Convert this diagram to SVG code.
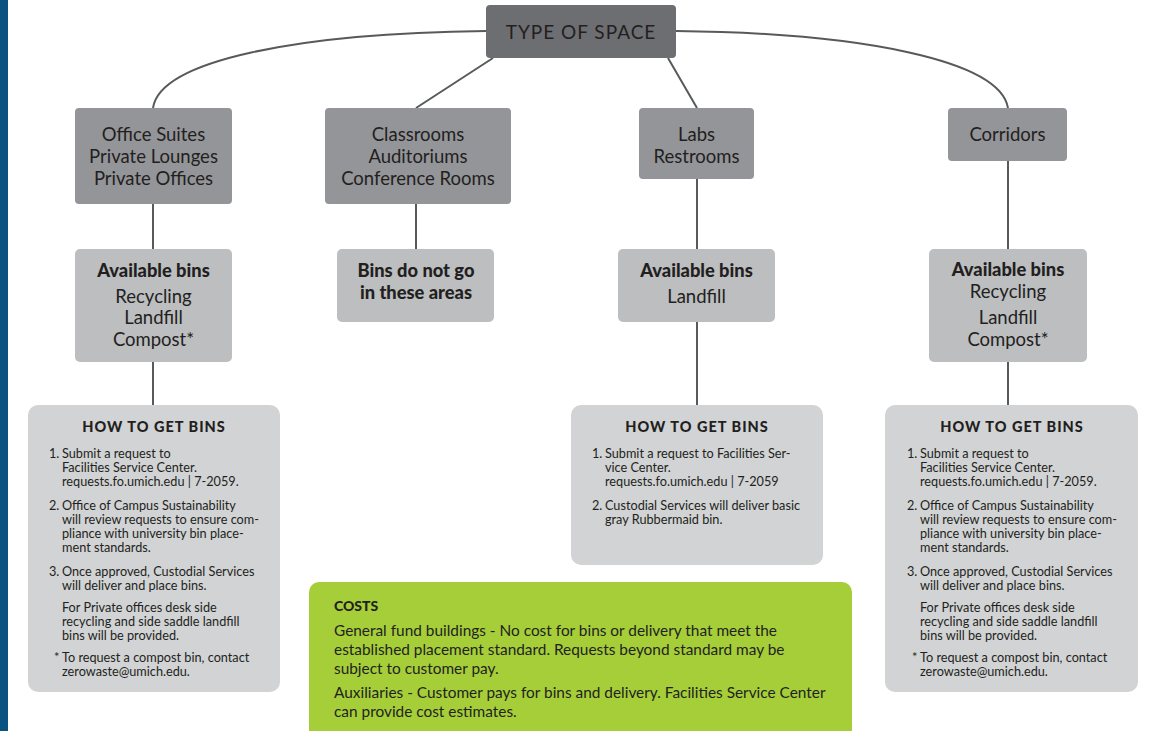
<svg xmlns="http://www.w3.org/2000/svg" width="1151" height="731" viewBox="0 0 1151 731">
<style>
.t{font-family:Lato,"Noto Sans",sans-serif;fill:#231f20}
.c{text-anchor:middle}
.l1{font-size:18.5px}
.b{font-weight:900;font-size:18.3px}
.s{font-size:12.7px}
.h{font-size:14.5px;font-weight:900;letter-spacing:1px}
.g{font-size:15.4px}
.conn{stroke:#58595b;stroke-width:2;fill:none}
</style>
<rect x="0" y="0" width="1151" height="731" fill="#ffffff"/>
<rect x="0" y="0" width="8" height="731" fill="#0a5280"/>
<g id="connectors">
<path class="conn" d="M486,31 C300,33 160,60 153,108"/>
<path class="conn" d="M676,31 C860,33 1000,60 1008,108"/>
<path class="conn" d="M493,58 L416,108"/>
<path class="conn" d="M668,58 L697,108"/>
<path class="conn" d="M153,204 V249 M416,204 V249 M697,179 V249 M1008,161 V249"/>
<path class="conn" d="M153,362 V405 M697,322 V405 M1008,362 V405"/>
</g>
<g id="type-of-space">
<rect x="486" y="5" width="190" height="53" rx="4" fill="#6d6e71"/>
<text class="t c" x="581" y="39" style="font-size:19px;letter-spacing:1px">TYPE OF SPACE</text>
</g>
<g id="office-suites">
<rect x="75" y="108" width="157" height="96" rx="4" fill="#939598"/>
<text class="t c l1" x="153.5" y="141">Office Suites</text>
<text class="t c l1" x="153.5" y="163">Private Lounges</text>
<text class="t c l1" x="153.5" y="185">Private Offices</text>
</g>
<g id="classrooms">
<rect x="325" y="108" width="186" height="96" rx="4" fill="#939598"/>
<text class="t c l1" x="418" y="141">Classrooms</text>
<text class="t c l1" x="418" y="163">Auditoriums</text>
<text class="t c l1" x="418" y="185">Conference Rooms</text>
</g>
<g id="labs">
<rect x="639" y="108" width="115" height="71" rx="4" fill="#939598"/>
<text class="t c l1" x="696.5" y="141">Labs</text>
<text class="t c l1" x="696.5" y="163">Restrooms</text>
</g>
<g id="corridors">
<rect x="948" y="108" width="119" height="53" rx="4" fill="#939598"/>
<text class="t c l1" x="1007.5" y="141">Corridors</text>
</g>
<g id="office-bins">
<rect x="75" y="249" width="157" height="113" rx="5" fill="#bcbec0"/>
<text class="t c b" x="153.5" y="277">Available bins</text>
<text class="t c l1" x="153.5" y="303">Recycling</text>
<text class="t c l1" x="153.5" y="324">Landfill</text>
<text class="t c l1" x="153.5" y="346">Compost*</text>
</g>
<g id="no-bins">
<rect x="337" y="249" width="157" height="73" rx="5" fill="#bcbec0"/>
<text class="t c b" x="416" y="277">Bins do not go</text>
<text class="t c b" x="416" y="299">in these areas</text>
</g>
<g id="labs-bins">
<rect x="618" y="249" width="157" height="73" rx="5" fill="#bcbec0"/>
<text class="t c b" x="696.5" y="277">Available bins</text>
<text class="t c l1" x="696.5" y="303">Landfill</text>
</g>
<g id="corridor-bins">
<rect x="929" y="249" width="158" height="113" rx="5" fill="#bcbec0"/>
<text class="t c b" x="1008" y="276">Available bins</text>
<text class="t c l1" x="1008" y="298">Recycling</text>
<text class="t c l1" x="1008" y="324">Landfill</text>
<text class="t c l1" x="1008" y="346">Compost*</text>
</g>
<g id="office-how">
<rect x="28" y="405" width="252" height="287" rx="10" fill="#d1d3d4"/>
<text class="t c h" x="154" y="432">HOW TO GET BINS</text>
<g class="t s">
<text x="49" y="458">1.</text>
<text x="62" y="458">Submit a request to</text>
<text x="62" y="472">Facilities Service Center.</text>
<text x="62" y="486">requests.fo.umich.edu | 7-2059.</text>
<text x="49" y="510">2.</text>
<text x="62" y="510">Office of Campus Sustainability</text>
<text x="62" y="524">will review requests to ensure com-</text>
<text x="62" y="538">pliance with university bin place-</text>
<text x="62" y="552">ment standards.</text>
<text x="49" y="576">3.</text>
<text x="62" y="576">Once approved, Custodial Services</text>
<text x="62" y="590">will deliver and place bins.</text>
<text x="62" y="612">For Private offices desk side</text>
<text x="62" y="626">recycling and side saddle landfill</text>
<text x="62" y="640">bins will be provided.</text>
<text x="54" y="662">*</text>
<text x="62" y="662">To request a compost bin, contact</text>
<text x="62" y="676">zerowaste@umich.edu.</text>
</g>
</g>
<g id="labs-how">
<rect x="571" y="405" width="252" height="160" rx="10" fill="#d1d3d4"/>
<text class="t c h" x="697" y="432">HOW TO GET BINS</text>
<g class="t s">
<text x="592" y="458">1.</text>
<text x="605" y="458">Submit a request to Facilities Ser-</text>
<text x="605" y="472">vice Center.</text>
<text x="605" y="486">requests.fo.umich.edu | 7-2059</text>
<text x="592" y="510">2.</text>
<text x="605" y="510">Custodial Services will deliver basic</text>
<text x="605" y="524">gray Rubbermaid bin.</text>
</g>
</g>
<g id="corridor-how">
<rect x="885" y="405" width="253" height="287" rx="10" fill="#d1d3d4"/>
<text class="t c h" x="1012" y="432">HOW TO GET BINS</text>
<g class="t s">
<text x="907" y="458">1.</text>
<text x="920" y="458">Submit a request to</text>
<text x="920" y="472">Facilities Service Center.</text>
<text x="920" y="486">requests.fo.umich.edu | 7-2059.</text>
<text x="907" y="510">2.</text>
<text x="920" y="510">Office of Campus Sustainability</text>
<text x="920" y="524">will review requests to ensure com-</text>
<text x="920" y="538">pliance with university bin place-</text>
<text x="920" y="552">ment standards.</text>
<text x="907" y="576">3.</text>
<text x="920" y="576">Once approved, Custodial Services</text>
<text x="920" y="590">will deliver and place bins.</text>
<text x="920" y="612">For Private offices desk side</text>
<text x="920" y="626">recycling and side saddle landfill</text>
<text x="920" y="640">bins will be provided.</text>
<text x="912" y="662">*</text>
<text x="920" y="662">To request a compost bin, contact</text>
<text x="920" y="676">zerowaste@umich.edu.</text>
</g>
</g>
<g id="costs">
<rect x="309" y="582" width="543" height="170" rx="10" fill="#a6ce39"/>
<text class="t" x="334" y="611" style="font-size:14px;font-weight:900">COSTS</text>
<g class="t g">
<text x="334" y="636">General fund buildings - No cost for bins or delivery that meet the</text>
<text x="334" y="655">established placement standard.  Requests beyond standard may be</text>
<text x="334" y="674">subject to customer pay.</text>
<text x="334" y="698">Auxiliaries - Customer pays for bins and delivery. Facilities Service Center</text>
<text x="334" y="717">can provide cost estimates.</text>
</g>
</g>
</svg>
